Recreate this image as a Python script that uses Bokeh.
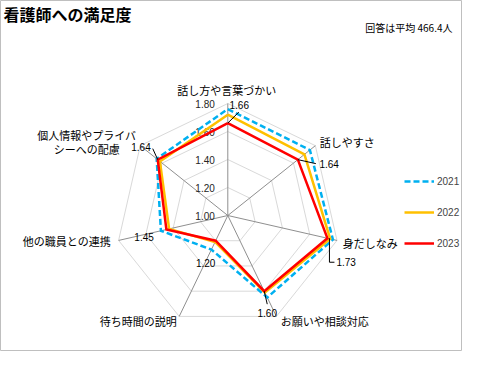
import math
from bokeh.plotting import figure
from bokeh.models import Range1d, Legend, LegendItem
from bokeh.core.properties import value
from bokeh.embed import file_html
from bokeh.resources import INLINE

# ---------------- data ----------------
categories = ["話し方や言葉づかい", "話しやすさ", "身だしなみ", "お願いや相談対応",
              "待ち時間の説明", "他の職員との連携", "個人情報やプライバ\nシーへの配慮"]
years = ["2021", "2022", "2023"]
v2021 = [1.76, 1.75, 1.77, 1.65, 1.27, 1.49, 1.65]
v2022 = [1.72, 1.70, 1.75, 1.61, 1.21, 1.43, 1.62]
v2023 = [1.66, 1.64, 1.73, 1.60, 1.20, 1.45, 1.64]
ticks = [1.00, 1.20, 1.40, 1.60, 1.80]
tick_labels = ["1.00", "1.20", "1.40", "1.60", "1.80"]
title_text = "看護師への満足度"
note_text = "回答は平均 466.4人"

# ---------------- layout ----------------
W, H = 462, 351
CX, CY = 227.3, 215.0      # radar centre in figure pixels (from top-left)
S = 140.0                  # pixels per value unit
r_min = ticks[0]
n = len(categories)
JP = "Noto Sans CJK JP"
NUM = "Liberation Sans"

def pt(v, i):
    r = (v - r_min) * S
    th = 2 * math.pi * i / n
    return r * math.sin(th), r * math.cos(th)

def fx(px):
    return px - CX

def fy(py):
    return CY - py

p = figure(width=W, height=H, x_range=Range1d(-CX, W - CX), y_range=Range1d(-(H - CY), CY),
           output_backend="svg", toolbar_location=None, x_axis_location=None,
           y_axis_location=None, min_border=0, background_fill_color="white",
           border_fill_color="white", outline_line_color="#bfbfbf")
p.grid.visible = False

# rings
for t in ticks[1:]:
    xs = [pt(t, i)[0] for i in range(n)]
    ys = [pt(t, i)[1] for i in range(n)]
    p.line(xs + [xs[0]], ys + [ys[0]], line_color="#d9d9d9", line_width=1)

# spokes
ox = [pt(ticks[-1], i)[0] for i in range(n)]
oy = [pt(ticks[-1], i)[1] for i in range(n)]
p.segment(x0=[0] * n, y0=[0] * n, x1=ox, y1=oy, line_color="#8f8f8f", line_width=1)

# value-axis labels
p.text(x=[-13] * len(ticks), y=[(t - r_min) * S for t in ticks], text=tick_labels,
       text_align="right", text_baseline="middle", text_font=value(NUM),
       text_font_size="10px", text_color="#262626")

# series
styles = [("#00b0f0", "6 3"), ("#ffc000", "solid"), ("#ff0000", "solid")]
renderers = []
for vals, (col, dash) in zip([v2021, v2022, v2023], styles):
    xs = [pt(v, i)[0] for i, v in enumerate(vals)]
    ys = [pt(v, i)[1] for i, v in enumerate(vals)]
    r = p.line(xs + [xs[0]], ys + [ys[0]], line_color=col, line_width=2.5,
               line_dash=dash, line_join="miter")
    renderers.append(r)

# data labels for 2023 with leader lines
lab_dx = [1.7, 21.6, 9, 3, -10, -12.6, -7]
lab_dy = [-18.6, 4, 24, 22, 22, 7, -12.7]
lab_align = ["left", "left", "left", "center", "center", "right", "right"]
leaders = {0: [(0, 0), (11, -11)], 1: [(0, 0), (18, 4)], 2: [(2, 0), (2, 24), (7, 24)],
           3: [(0, 0), (3, 13)], 6: [(0, 0), (-5, -11)]}
for i, v in enumerate(v2023):
    x0, y0 = pt(v, i)
    p.text(x=[x0 + lab_dx[i]], y=[y0 - lab_dy[i]], text=["%.2f" % v],
           text_align=lab_align[i], text_baseline="middle", text_font=value(NUM),
           text_font_size="10px", text_color="black")
    if i in leaders:
        pts = leaders[i]
        p.line([x0 + a for a, b in pts], [y0 - b for a, b in pts], line_color="black",
               line_width=1)

# category labels
cat_dx = [-1, 92, 115, 53, -51, -117, -141]
cat_dy = [-126, -74, 27, 105, 105, 25, -73.5]
cat_align = ["center", "left", "left", "left", "right", "right", "center"]
for i, c in enumerate(categories):
    p.text(x=[cat_dx[i]], y=[-cat_dy[i]], text=[c], text_align=cat_align[i],
           text_baseline="middle", text_font=value(JP), text_font_size="11px",
           text_color="black", text_line_height=0.92)

# title and note
p.text(x=[fx(3)], y=[fy(13)], text=[title_text], text_align="left", text_baseline="middle",
       text_font=value(JP), text_font_size="16px", text_font_style="bold", text_color="black")
p.text(x=[fx(452)], y=[fy(27)], text=[note_text], text_align="right", text_baseline="middle",
       text_font=value(JP), text_font_size="10px", text_color="black")

legend = Legend(items=[LegendItem(label=y, renderers=[r]) for y, r in zip(years, renderers)],
                location=(404, 98), glyph_width=30, glyph_height=20, label_height=20,
                spacing=11, label_standoff=3, padding=0, margin=0,
                border_line_color=None, background_fill_alpha=0,
                label_text_font=NUM, label_text_font_size="10px")
p.add_layout(legend, "center")

open("out.html", "w").write(file_html(p, INLINE))
